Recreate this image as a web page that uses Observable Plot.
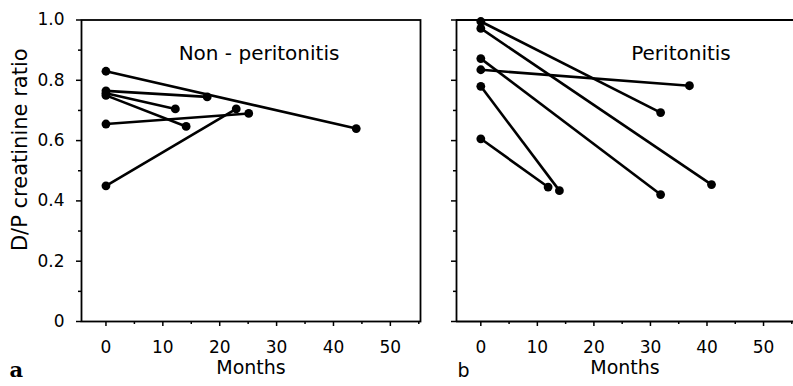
<!DOCTYPE html>
<html><head><meta charset="utf-8">
<script src="https://cdn.jsdelivr.net/npm/d3@7"></script>
<script src="https://cdn.jsdelivr.net/npm/@observablehq/plot@0.6"></script>
<style>
body{margin:0;background:#fff;}
#wrap{position:relative;width:793px;height:386px;overflow:hidden;background:#fff;}
#wrap svg{position:absolute;top:0;overflow:visible;}
</style></head><body><div id="wrap"></div>
<script>
const panelLetters = ["a", "b"];
const panelTitles = ["Non - peritonitis", "Peritonitis"];
const xLabel = "Months";
const yLabel = "D/P creatinine ratio";
const xTicks = [0, 10, 20, 30, 40, 50];
const xTickLabels = ["0", "10", "20", "30", "40", "50"];
const xMinorTicks = [5, 15, 25, 35, 45, 55];
const yTicks = [0, 0.2, 0.4, 0.6, 0.8, 1.0];
const yTickLabels = ["0", "0.2", "0.4", "0.6", "0.8", "1.0"];
const yMinorTicks = [0.1, 0.3, 0.5, 0.7, 0.9];
const xDomain = [-4.3, 55.3];
const yDomain = [0, 1];

const nonPeriStartMonths = [0, 0, 0, 0, 0, 0];
const nonPeriStartRatio = [0.83, 0.765, 0.757, 0.75, 0.655, 0.45];
const nonPeriEndMonths = [44, 17.8, 12.2, 14.1, 25.1, 22.9];
const nonPeriEndRatio = [0.64, 0.745, 0.705, 0.647, 0.69, 0.705];

const periStartMonths = [0, 0, 0, 0, 0, 0];
const periStartRatio = [0.995, 0.972, 0.872, 0.835, 0.78, 0.606];
const periEndMonths = [31.8, 40.8, 31.8, 36.9, 13.9, 11.9];
const periEndRatio = [0.693, 0.454, 0.421, 0.782, 0.434, 0.446];

const FONT = "DejaVu Sans";

function panel(k, sm, sr, em, er, cfg) {
  const segs = sm.map((m, i) => ({m0: m, r0: sr[i], m1: em[i], r1: er[i]}));
  const marks = [];
  if (k === 0) {
    marks.push(Plot.frame({stroke: "black", strokeWidth: 1.8}));
  } else {
    marks.push(Plot.ruleY([yDomain[1]], {stroke: "black", strokeWidth: 1.8}));
    marks.push(Plot.ruleY([yDomain[0]], {stroke: "black", strokeWidth: 1.8}));
    marks.push(Plot.ruleX([xDomain[0]], {stroke: "black", strokeWidth: 1.8}));
  }
  marks.push(
    Plot.axisY(yTicks, {tickSize: 5, strokeWidth: 1.5, fill: "none", label: null}),
    Plot.axisY(yMinorTicks, {tickSize: 3, strokeWidth: 1.5, fill: "none", label: null}),
    Plot.axisX(xTicks, {tickSize: 5, strokeWidth: 1.5, fill: "none", label: null}),
    Plot.axisX(xMinorTicks, {tickSize: 3, strokeWidth: 1.5, fill: "none", label: null}),
    Plot.text(xTicks, {x: d => d, text: (d, i) => xTickLabels[i], frameAnchor: "bottom", textAnchor: "middle",
      lineAnchor: "top", dy: 19, fontSize: 17, fontFamily: FONT})
  );
  if (k === 0) {
    marks.push(Plot.text(yTicks, {y: d => d, text: (d, i) => yTickLabels[i], frameAnchor: "left", textAnchor: "end",
      lineAnchor: "middle", dx: -17, fontSize: 17, fontFamily: FONT}));
  }
  marks.push(
    Plot.link(segs, {x1: "m0", y1: "r0", x2: "m1", y2: "r1", stroke: "black", strokeWidth: 2.6}),
    Plot.dot(segs, {x: "m0", y: "r0", r: 4.4, fill: "black", stroke: "none"}),
    Plot.dot(segs, {x: "m1", y: "r1", r: 4.4, fill: "black", stroke: "none"}),
    Plot.text([panelTitles[k]], {text: d => d, frameAnchor: "top", textAnchor: "middle", dx: cfg.titleDx, dy: 26, fontSize: 20, fontFamily: FONT}),
    Plot.text([xLabel], {text: d => d, frameAnchor: "bottom", textAnchor: "middle", dy: 52, fontSize: 19, fontFamily: FONT}),
    Plot.text([panelLetters[k]], {text: d => d, frameAnchor: "bottom-left", textAnchor: "start", dx: cfg.letterDx, dy: 55,
      fontSize: k === 0 ? 21 : 19, fontFamily: k === 0 ? "DejaVu Serif" : FONT, fontWeight: k === 0 ? "bold" : "normal"})
  );
  if (k === 0) {
    marks.push(Plot.text([yLabel], {text: d => d, frameAnchor: "left", textAnchor: "middle", rotate: -90, dx: -61.5, dy: -21, fontSize: 21, fontFamily: FONT}));
  }
  return Plot.plot({
    width: cfg.width, height: 386,
    marginLeft: cfg.ml, marginRight: cfg.mr, marginTop: 19.5, marginBottom: 65,
    x: {domain: xDomain}, y: {domain: yDomain},
    style: {fontFamily: FONT, fontSize: "17px", color: "black", background: "transparent", overflow: "visible"},
    marks
  });
}

const wrap = document.getElementById("wrap");
const left = panel(0, nonPeriStartMonths, nonPeriStartRatio, nonPeriEndMonths, nonPeriEndRatio,
  {width: 440, ml: 81, mr: 20, titleDx: 8, letterDx: -72});
left.style.left = "0px";
wrap.appendChild(left);
const right = panel(1, periStartMonths, periStartRatio, periEndMonths, periEndRatio,
  {width: 373, ml: 36, mr: 0, titleDx: 56, letterDx: 1});
right.style.left = "420px";
wrap.appendChild(right);
</script></body></html>
